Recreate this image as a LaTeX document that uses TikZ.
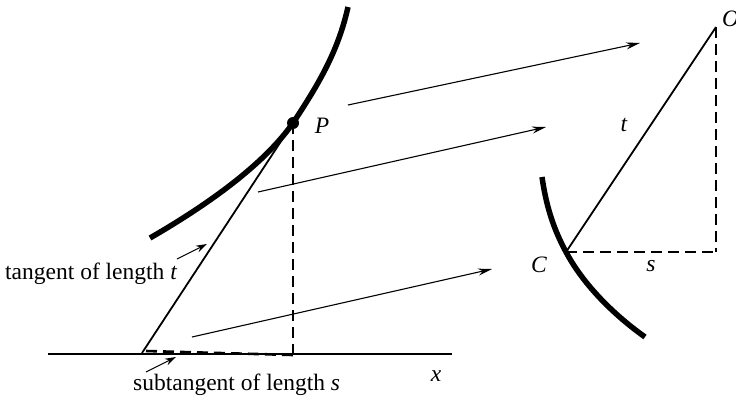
\documentclass[tikz,border=0pt]{standalone}
\usepackage{fontspec}
\setmainfont{Liberation Serif}
\usetikzlibrary{arrows.meta}
\begin{document}
\begin{tikzpicture}[x=1pt,y=-1pt,
  thickcurve/.style={line width=5.5pt},
  thinline/.style={line width=1.8pt},
  dashline/.style={line width=2.6pt,dash pattern=on 11pt off 6pt},
  maparrow/.style={line width=1.1pt,-{Stealth[length=14pt,width=7pt]}},
  ptr/.style={line width=1.1pt,-{Stealth[length=11pt,width=7pt]}},
  lbl/.style={font=\fontsize{23.5}{28}\selectfont,inner sep=0pt}]
\useasboundingbox (0,0) rectangle (736,400);
% left figure
\coordinate (A1) at (48,354);
\coordinate (A2) at (452,354);
\coordinate (T) at (142,353);
\coordinate (F) at (293,353);
\coordinate (P) at (293,123);
\coordinate (L1) at (150,238);
\coordinate (L2) at (348,7);
\draw[thinline] (A1) -- (A2);
\draw[dashline] (T) ++(4,-2) -- ([yshift=-2pt]F);
\draw[dashline] (P) -- (F);
\draw[thinline] (T) -- (P);
\draw[thickcurve] (L1) .. controls (195,212) and (260,170) .. (P)
  .. controls (318,85) and (338,52) .. (L2);
\node[circle,fill=black,inner sep=0pt,minimum size=12pt] (Pdot) at (P) {};
\node[lbl] (Plab) at (322,126) {\itshape P};
\node[lbl] (xlab) at (436,376) {\itshape x};
\node[lbl,anchor=base west] (tanlab) at (5,279) {tangent of length \textit{t}};
\node[lbl,anchor=base west] (sublab) at (133,390) {subtangent of length \textit{s}};
\coordinate (tp1) at (177,259);
\coordinate (tp2) at (207,244);
\draw[ptr] (tp1) -- (tp2);
\coordinate (sp1) at (146,372);
\coordinate (sp2) at (176,357);
\draw[ptr] (sp1) -- (sp2);
% mapping arrows
\coordinate (m1a) at (348,105); \coordinate (m1b) at (640,43);
\coordinate (m2a) at (258,192); \coordinate (m2b) at (546,127);
\coordinate (m3a) at (192,337); \coordinate (m3b) at (492,269);
\draw[maparrow] (m1a) -- (m1b);
\draw[maparrow] (m2a) -- (m2b);
\draw[maparrow] (m3a) -- (m3b);
% right figure
\coordinate (O) at (716,27);
\coordinate (C) at (566,252);
\coordinate (Q) at (716,252);
\coordinate (R1) at (542,177);
\coordinate (R2) at (645,337);
\draw[dashline] (O) -- (Q);
\draw[dashline] (C) -- (Q);
\draw[thinline] (C) -- (O);
\draw[thickcurve] (R1) .. controls (546,205) and (553,228) .. (C)
  .. controls (582,282) and (610,312) .. (R2);
\node[lbl,anchor=west] (Olab) at (722,19) {\itshape O};
\node[lbl] (Clab) at (539,265) {\itshape C};
\node[lbl] (slab) at (651,266) {\itshape s};
\node[lbl] (tlab) at (624,125) {\itshape t};
\end{tikzpicture}
\end{document}
